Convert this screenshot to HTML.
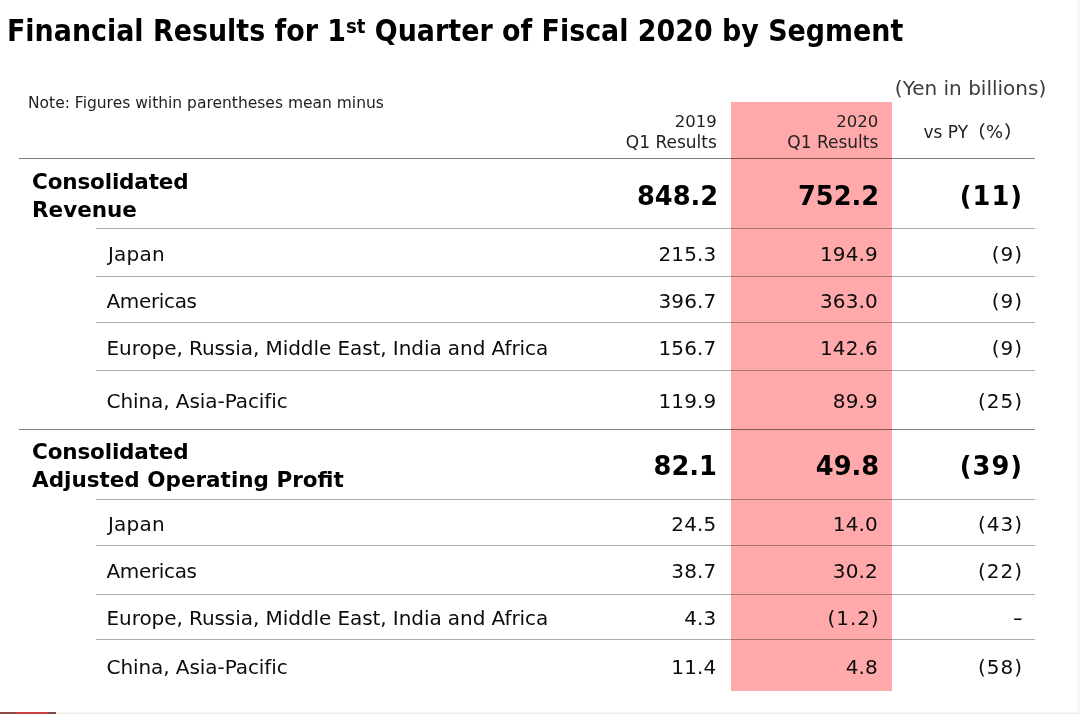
<!DOCTYPE html>
<html lang="en">
<head>
<meta charset="utf-8">
<title>Financial Results for 1st Quarter of Fiscal 2020 by Segment</title>
<style>
html,body{margin:0;padding:0;background:#fff;}
body{width:1080px;height:714px;position:relative;overflow:hidden;font-family:"DejaVu Sans", "Liberation Sans", sans-serif;color:#0c0c0c;}
.t{position:absolute;white-space:nowrap;line-height:1;}
.title{left:6.6px;font-size:29.4px;font-weight:bold;color:#000;transform:scaleX(0.9152);transform-origin:0 0;}
.title sup{font-size:19.8px;vertical-align:baseline;position:relative;top:-8px;}
.note{left:28px;font-size:15.5px;color:#222;}
.unit{right:33.8px;font-size:20px;color:#3c3c3c;}
.hd{font-size:17px;color:#222;text-align:right;}
.hd.d{font-size:16.5px;}
.hd .fw{font-family:"Noto Sans CJK JP","DejaVu Sans",sans-serif;font-weight:500;font-size:17.5px;}
.hd .pc{font-size:18px;margin:0 1px 0 0.5px;}
.pink{position:absolute;left:731px;top:102px;width:161px;height:589px;background:#ffa9aa;}
.ln{position:absolute;height:1px;background:rgba(0,0,0,0.32);}
.ln.h{background:rgba(0,0,0,0.5);}
.lab{left:106.5px;font-size:20px;letter-spacing:-0.07px;}
.num{font-size:20px;text-align:right;letter-spacing:0.15px;}
.pct{letter-spacing:1px;}
.bl{left:32px;font-size:21.5px;font-weight:bold;color:#000;}
.bn{font-size:25.7px;font-weight:bold;text-align:right;color:#000;}
.foot{position:absolute;left:0;top:712px;width:1080px;height:2px;background:linear-gradient(#f8f8f8,#ececec);}
.footr{position:absolute;left:0;top:712px;width:56px;height:2px;background:linear-gradient(90deg,#8a4a4a 0,#8a4a4a 14px,#c8403f 16px,#c8403f 47px,#7a4646 49px,#7a4646 56px);}
.edge{position:absolute;right:0;top:0;width:3px;height:714px;background:linear-gradient(90deg,#fdfdfd,#f2f2f2);}
</style>
</head>
<body>
<div class="pink"></div>
<div class="ln h" style="left:19px;top:158px;width:1016px"></div>
<div class="ln" style="left:96px;top:228px;width:939px"></div>
<div class="ln" style="left:96px;top:276px;width:939px"></div>
<div class="ln" style="left:96px;top:322px;width:939px"></div>
<div class="ln" style="left:96px;top:370px;width:939px"></div>
<div class="ln h" style="left:19px;top:429px;width:1016px"></div>
<div class="ln" style="left:96px;top:499px;width:939px"></div>
<div class="ln" style="left:96px;top:545px;width:939px"></div>
<div class="ln" style="left:96px;top:594px;width:939px"></div>
<div class="ln" style="left:96px;top:639px;width:939px"></div>
<div class="t title" style="top:16.5px">Financial Results for 1<sup>st</sup> Quarter of Fiscal 2020 by Segment</div>
<div class="t note" style="top:96.2px">Note: Figures within parentheses mean minus</div>
<div class="t unit" style="top:78.4px">(Yen in billions)</div>
<div class="t hd d" style="right:363.2px;top:114.0px">2019</div>
<div class="t hd" style="right:363.2px;top:133.6px">Q1 Results</div>
<div class="t hd d" style="right:201.7px;top:114.0px">2020</div>
<div class="t hd" style="right:201.7px;top:133.6px">Q1 Results</div>
<div class="t hd" style="left:923.5px;top:122.1px">vs PY<span class="fw">（</span><span class="pc">%</span><span class="fw">）</span></div>
<div class="t bl" style="top:170.6px;letter-spacing:-0.15px">Consolidated</div>
<div class="t bl" style="top:198.5px">Revenue</div>
<div class="t bl" style="top:441.1px;letter-spacing:-0.15px">Consolidated</div>
<div class="t bl" style="top:468.7px">Adjusted Operating Profit</div>
<div class="t bn" style="right:361.8px;top:183.7px">848.2</div>
<div class="t bn" style="right:200.8px;top:183.7px">752.2</div>
<div class="t bn pct" style="right:57px;top:183.7px">(11)</div>
<div class="t lab" style="top:244.1px;left:108px;letter-spacing:0.2px;">Japan</div>
<div class="t num" style="right:363.5px;top:244.1px">215.3</div>
<div class="t num" style="right:202px;top:244.1px">194.9</div>
<div class="t num pct" style="right:57px;top:244.1px">(9)</div>
<div class="t lab" style="top:291.1px;letter-spacing:-0.35px;">Americas</div>
<div class="t num" style="right:363.5px;top:291.1px">396.7</div>
<div class="t num" style="right:202px;top:291.1px">363.0</div>
<div class="t num pct" style="right:57px;top:291.1px">(9)</div>
<div class="t lab" style="top:338.1px;">Europe, Russia, Middle East, India and Africa</div>
<div class="t num" style="right:363.5px;top:338.1px">156.7</div>
<div class="t num" style="right:202px;top:338.1px">142.6</div>
<div class="t num pct" style="right:57px;top:338.1px">(9)</div>
<div class="t lab" style="top:391.1px;">China, Asia-Pacific</div>
<div class="t num" style="right:363.5px;top:391.1px">119.9</div>
<div class="t num" style="right:202px;top:391.1px">89.9</div>
<div class="t num pct" style="right:57px;top:391.1px">(25)</div>
<div class="t bn" style="right:361.8px;top:454.1px;right:363px">82.1</div>
<div class="t bn" style="right:200.8px;top:454.1px">49.8</div>
<div class="t bn pct" style="right:57px;top:454.1px">(39)</div>
<div class="t lab" style="top:514.1px;left:108px;letter-spacing:0.2px;">Japan</div>
<div class="t num" style="right:363.5px;top:514.1px">24.5</div>
<div class="t num" style="right:202px;top:514.1px">14.0</div>
<div class="t num pct" style="right:57px;top:514.1px">(43)</div>
<div class="t lab" style="top:561.1px;letter-spacing:-0.35px;">Americas</div>
<div class="t num" style="right:363.5px;top:561.1px">38.7</div>
<div class="t num" style="right:202px;top:561.1px">30.2</div>
<div class="t num pct" style="right:57px;top:561.1px">(22)</div>
<div class="t lab" style="top:608.1px;">Europe, Russia, Middle East, India and Africa</div>
<div class="t num" style="right:363.5px;top:608.1px">4.3</div>
<div class="t num" style="right:202px;top:608.1px;letter-spacing:0.9px;right:200.5px">(1.2)</div>
<div class="t num pct" style="right:57px;top:608.1px;transform:scaleX(1.4);transform-origin:100% 50%;right:56px">-</div>
<div class="t lab" style="top:657.1px;">China, Asia-Pacific</div>
<div class="t num" style="right:363.5px;top:657.1px">11.4</div>
<div class="t num" style="right:202px;top:657.1px">4.8</div>
<div class="t num pct" style="right:57px;top:657.1px">(58)</div>
<div class="edge"></div><div class="foot"></div><div class="footr"></div>
</body>
</html>
